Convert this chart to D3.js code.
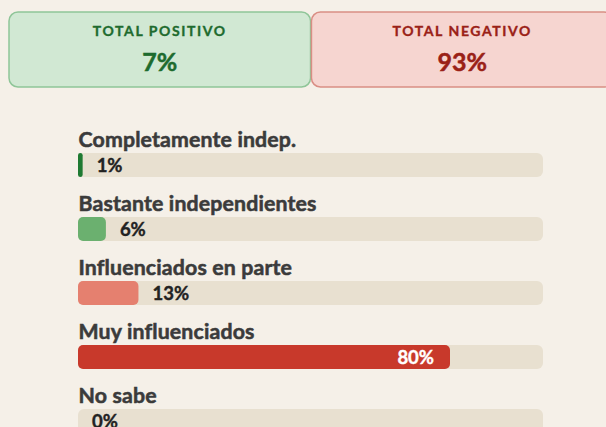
<!DOCTYPE html>
<html>
<head>
<meta charset="utf-8">
<script src="https://cdn.jsdelivr.net/npm/d3@7"></script>
<style>
  html, body { margin: 0; padding: 0; background: #f5f0e8; overflow: hidden; }
  svg { display: block; font-family: Lato, "Noto Sans", sans-serif; }
</style>
</head>
<body>
<div class="chart"></div>
<script>
var width = 606;
var height = 427;

// data
var categories = [
  'Completamente indep.',
  'Bastante independientes',
  'Influenciados en parte',
  'Muy influenciados',
  'No sabe'
];
var values = [1, 6, 13, 80, 0];
var barColors = ['#1f7a32', '#6bb06f', '#e5806f', '#c8392b', '#c8392b'];

var totalLabels = ['TOTAL POSITIVO', 'TOTAL NEGATIVO'];
var totalValues = [7, 93];

var rows = categories.map((c, i) => ({name: c, value: values[i], color: barColors[i]}));

var svg = d3.select('div.chart').append('svg')
    .attr('width', width)
    .attr('height', height);

// summary cards
var cardScale = d3.scaleBand()
    .domain(totalLabels)
    .range([9, 613])
    .paddingInner(0.003);

var cardStyles = [
  {fill: '#d1e8d3', stroke: '#8fc598', text: '#1e6b2e'},
  {fill: '#f6d5d0', stroke: '#d98e84', text: '#9a2117'}
];

var cards = svg.selectAll('g.card')
  .data(totalLabels).enter().append('g')
    .attr('class', 'card')
    .attr('transform', d => 'translate(' + cardScale(d) + ',12)');

cards.append('rect')
    .attr('width', cardScale.bandwidth())
    .attr('height', 75)
    .attr('rx', 9)
    .attr('fill', (d, i) => cardStyles[i].fill)
    .attr('stroke', (d, i) => cardStyles[i].stroke)
    .attr('stroke-width', 1.5);

cards.append('text')
    .attr('x', cardScale.bandwidth() / 2)
    .attr('y', 24)
    .attr('text-anchor', 'middle')
    .attr('font-size', 14)
    .attr('font-weight', 'bold')
    .attr('letter-spacing', 1.6)
    .attr('fill', (d, i) => cardStyles[i].text)
    .attr('stroke', (d, i) => cardStyles[i].text)
    .attr('stroke-width', 0.35)
    .text(d => d);

cards.append('text')
    .attr('x', cardScale.bandwidth() / 2)
    .attr('y', 59)
    .attr('text-anchor', 'middle')
    .attr('font-size', 25)
    .attr('font-weight', 'bold')
    .attr('fill', (d, i) => cardStyles[i].text)
    .attr('stroke', (d, i) => cardStyles[i].text)
    .attr('stroke-width', 0.5)
    .text((d, i) => totalValues[i] + '%');

// bars
var xScale = d3.scaleLinear()
    .domain([0, 100])
    .range([0, 465]);
var yScale = d3.scaleBand()
    .domain(categories)
    .range([120, 440]);

var row = svg.selectAll('g.row')
  .data(rows).enter().append('g')
    .attr('class', 'row')
    .attr('transform', d => 'translate(78,' + yScale(d.name) + ')');

row.append('text')
    .attr('x', 0.5)
    .attr('y', 27)
    .attr('font-size', 21.3)
    .attr('font-weight', 'bold')
    .attr('fill', '#3b3b3b')
    .attr('stroke', '#3b3b3b')
    .attr('stroke-width', 0.55)
    .attr('letter-spacing', 0.15)
    .text(d => d.name);

row.append('rect')
    .attr('y', 33)
    .attr('width', xScale(100))
    .attr('height', 24)
    .attr('rx', 6)
    .attr('fill', '#e8e0d0');

row.filter(d => d.value > 0).append('rect')
    .attr('y', 33)
    .attr('width', d => xScale(d.value))
    .attr('height', 24)
    .attr('rx', d => Math.min(5, xScale(d.value) / 2))
    .attr('fill', d => d.color);

row.append('text')
    .attr('x', d => d.value > 50 ? xScale(d.value) - 16 : xScale(d.value) + 14)
    .attr('y', 52)
    .attr('text-anchor', d => d.value > 50 ? 'end' : 'start')
    .attr('font-size', 18.5)
    .attr('font-weight', 'bold')
    .attr('fill', d => d.value > 50 ? '#ffffff' : '#222222')
    .attr('stroke', d => d.value > 50 ? '#ffffff' : '#222222')
    .attr('stroke-width', 0.4)
    .text(d => d.value + '%');
</script>
</body>
</html>
